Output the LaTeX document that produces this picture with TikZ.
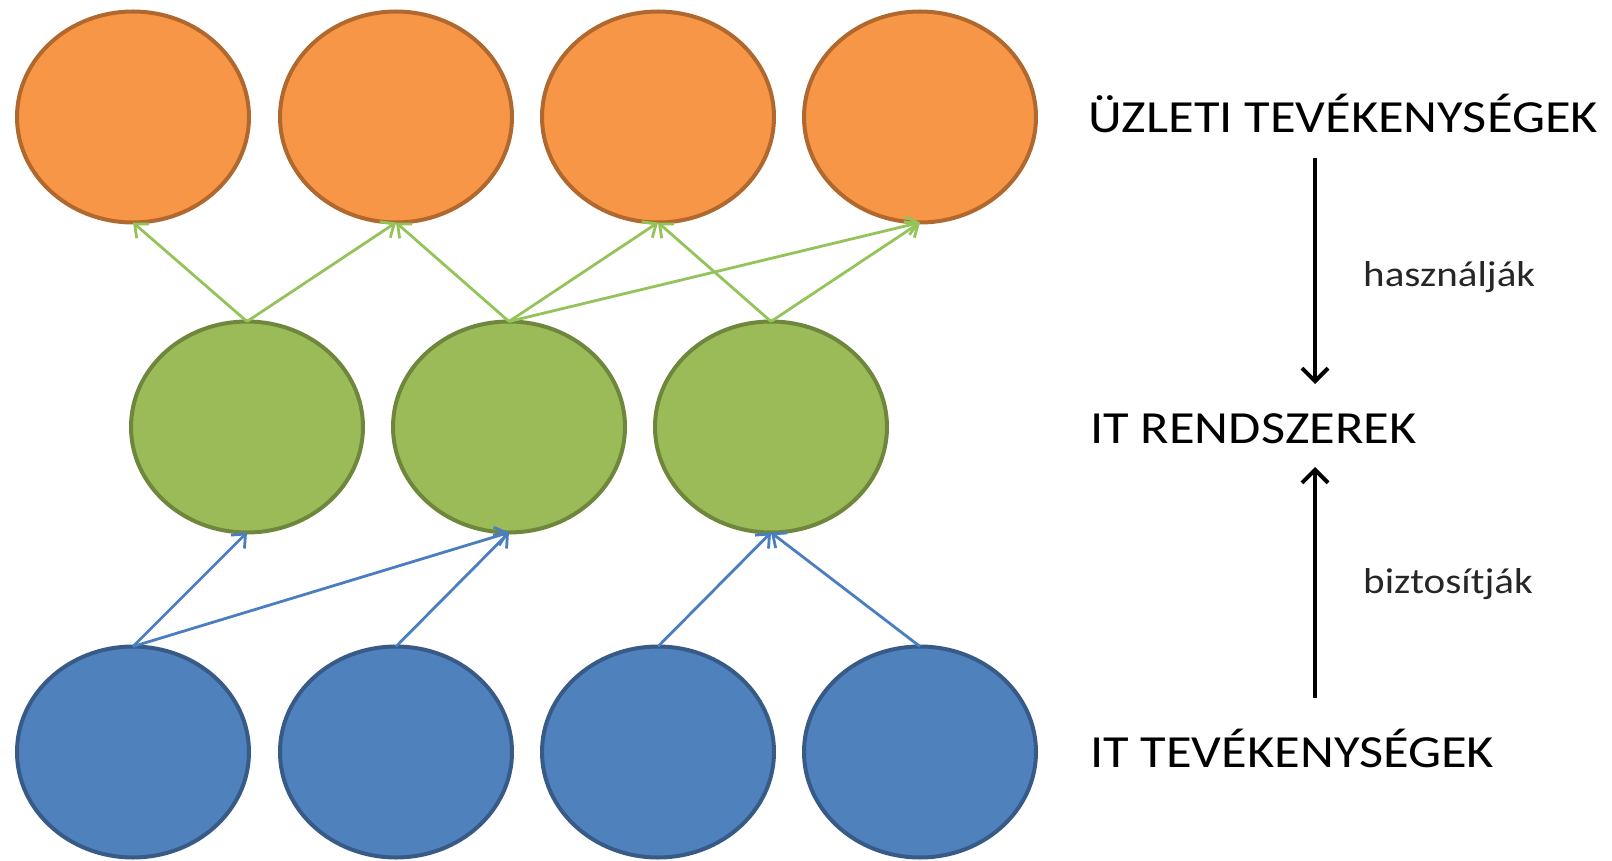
\documentclass[tikz,border=0pt]{standalone}
\usepackage{fontspec}
\setmainfont{Carlito}
\newfontfamily\lblfont{Carlito}[FakeStretch=1.14]
\usetikzlibrary{shapes.geometric,arrows.meta}

\definecolor{orfill}{HTML}{F79646}
\definecolor{ordraw}{HTML}{B0682E}
\definecolor{grfill}{HTML}{9BBB59}
\definecolor{grdraw}{HTML}{6E873C}
\definecolor{blfill}{HTML}{4F81BD}
\definecolor{bldraw}{HTML}{375A87}
\definecolor{grline}{HTML}{94C35A}
\definecolor{blline}{HTML}{4A7EC0}

\tikzset{
  blob/.style={ellipse, minimum width=232pt, minimum height=211pt,
    inner sep=0pt, outer sep=0pt, line width=4pt},
  business/.style={blob, fill=orfill, draw=ordraw},
  system/.style={blob, fill=grfill, draw=grdraw},
  itjob/.style={blob, fill=blfill, draw=bldraw},
  uses/.style={draw=grline, line width=2.8pt,
    -{Straight Barb[length=11pt,width=19pt,line width=2.8pt]}},
  provides/.style={draw=blline, line width=2.8pt,
    -{Straight Barb[length=11pt,width=19pt,line width=2.8pt]}},
  flow/.style={draw=black, line width=4pt,
    -{Straight Barb[length=13pt,width=26pt,line width=4pt]}},
  level/.style={font=\lblfont\fontsize{46}{50}\selectfont, anchor=base west,
    inner sep=0pt, text=black},
  verb/.style={font=\lblfont\fontsize{36}{40}\selectfont, anchor=base west,
    inner sep=0pt, text=black!85}
}

\begin{document}
\begin{tikzpicture}[x=1pt,y=-1pt]
\useasboundingbox (0,0) rectangle (1612,861);

% business activities
\node[business] (o1) at (133,117) {};
\node[business] (o2) at (396,117) {};
\node[business] (o3) at (658,117) {};
\node[business] (o4) at (920,117) {};

% IT systems
\node[system] (g1) at (247,427) {};
\node[system] (g2) at (509,427) {};
\node[system] (g3) at (771,427) {};

% IT activities
\node[itjob] (b1) at (133,752) {};
\node[itjob] (b2) at (396,752) {};
\node[itjob] (b3) at (658,752) {};
\node[itjob] (b4) at (920,752) {};

% systems used by business activities
\draw[uses] (g1.north) -- (o1.south);
\draw[uses] (g1.north) -- (o2.south);
\draw[uses] (g2.north) -- (o2.south);
\draw[uses] (g2.north) -- (o3.south);
\draw[uses] (g2.north) -- (o4.south);
\draw[uses] (g3.north) -- (o3.south);
\draw[uses] (g3.north) -- (o4.south);

% IT activities providing systems
\draw[provides] (b1.north) -- (g1.south);
\draw[provides] (b1.north) -- (g2.south);
\draw[provides] (b2.north) -- (g2.south);
\draw[provides] (b3.north) -- (g3.south);
\draw[provides] (b4.north) -- (g3.south);

% level labels
\node[level] (lbiz) at (1088,133) {ÜZLETI TEVÉKENYSÉGEK};
\node[level] (lsys) at (1090,443) {IT RENDSZEREK};
\node[level] (lit) at (1090,767) {IT TEVÉKENYSÉGEK};

% relations between levels
\coordinate (d1) at (1315,158);
\coordinate (d2) at (1315,384);
\coordinate (u1) at (1315,698);
\coordinate (u2) at (1315,467);
\draw[flow] (d1) -- (d2);
\draw[flow] (u1) -- (u2);
\node[verb] (vuse) at (1363,286) {használják};
\node[verb] (vprov) at (1363,593) {biztosítják};
\end{tikzpicture}
\end{document}
